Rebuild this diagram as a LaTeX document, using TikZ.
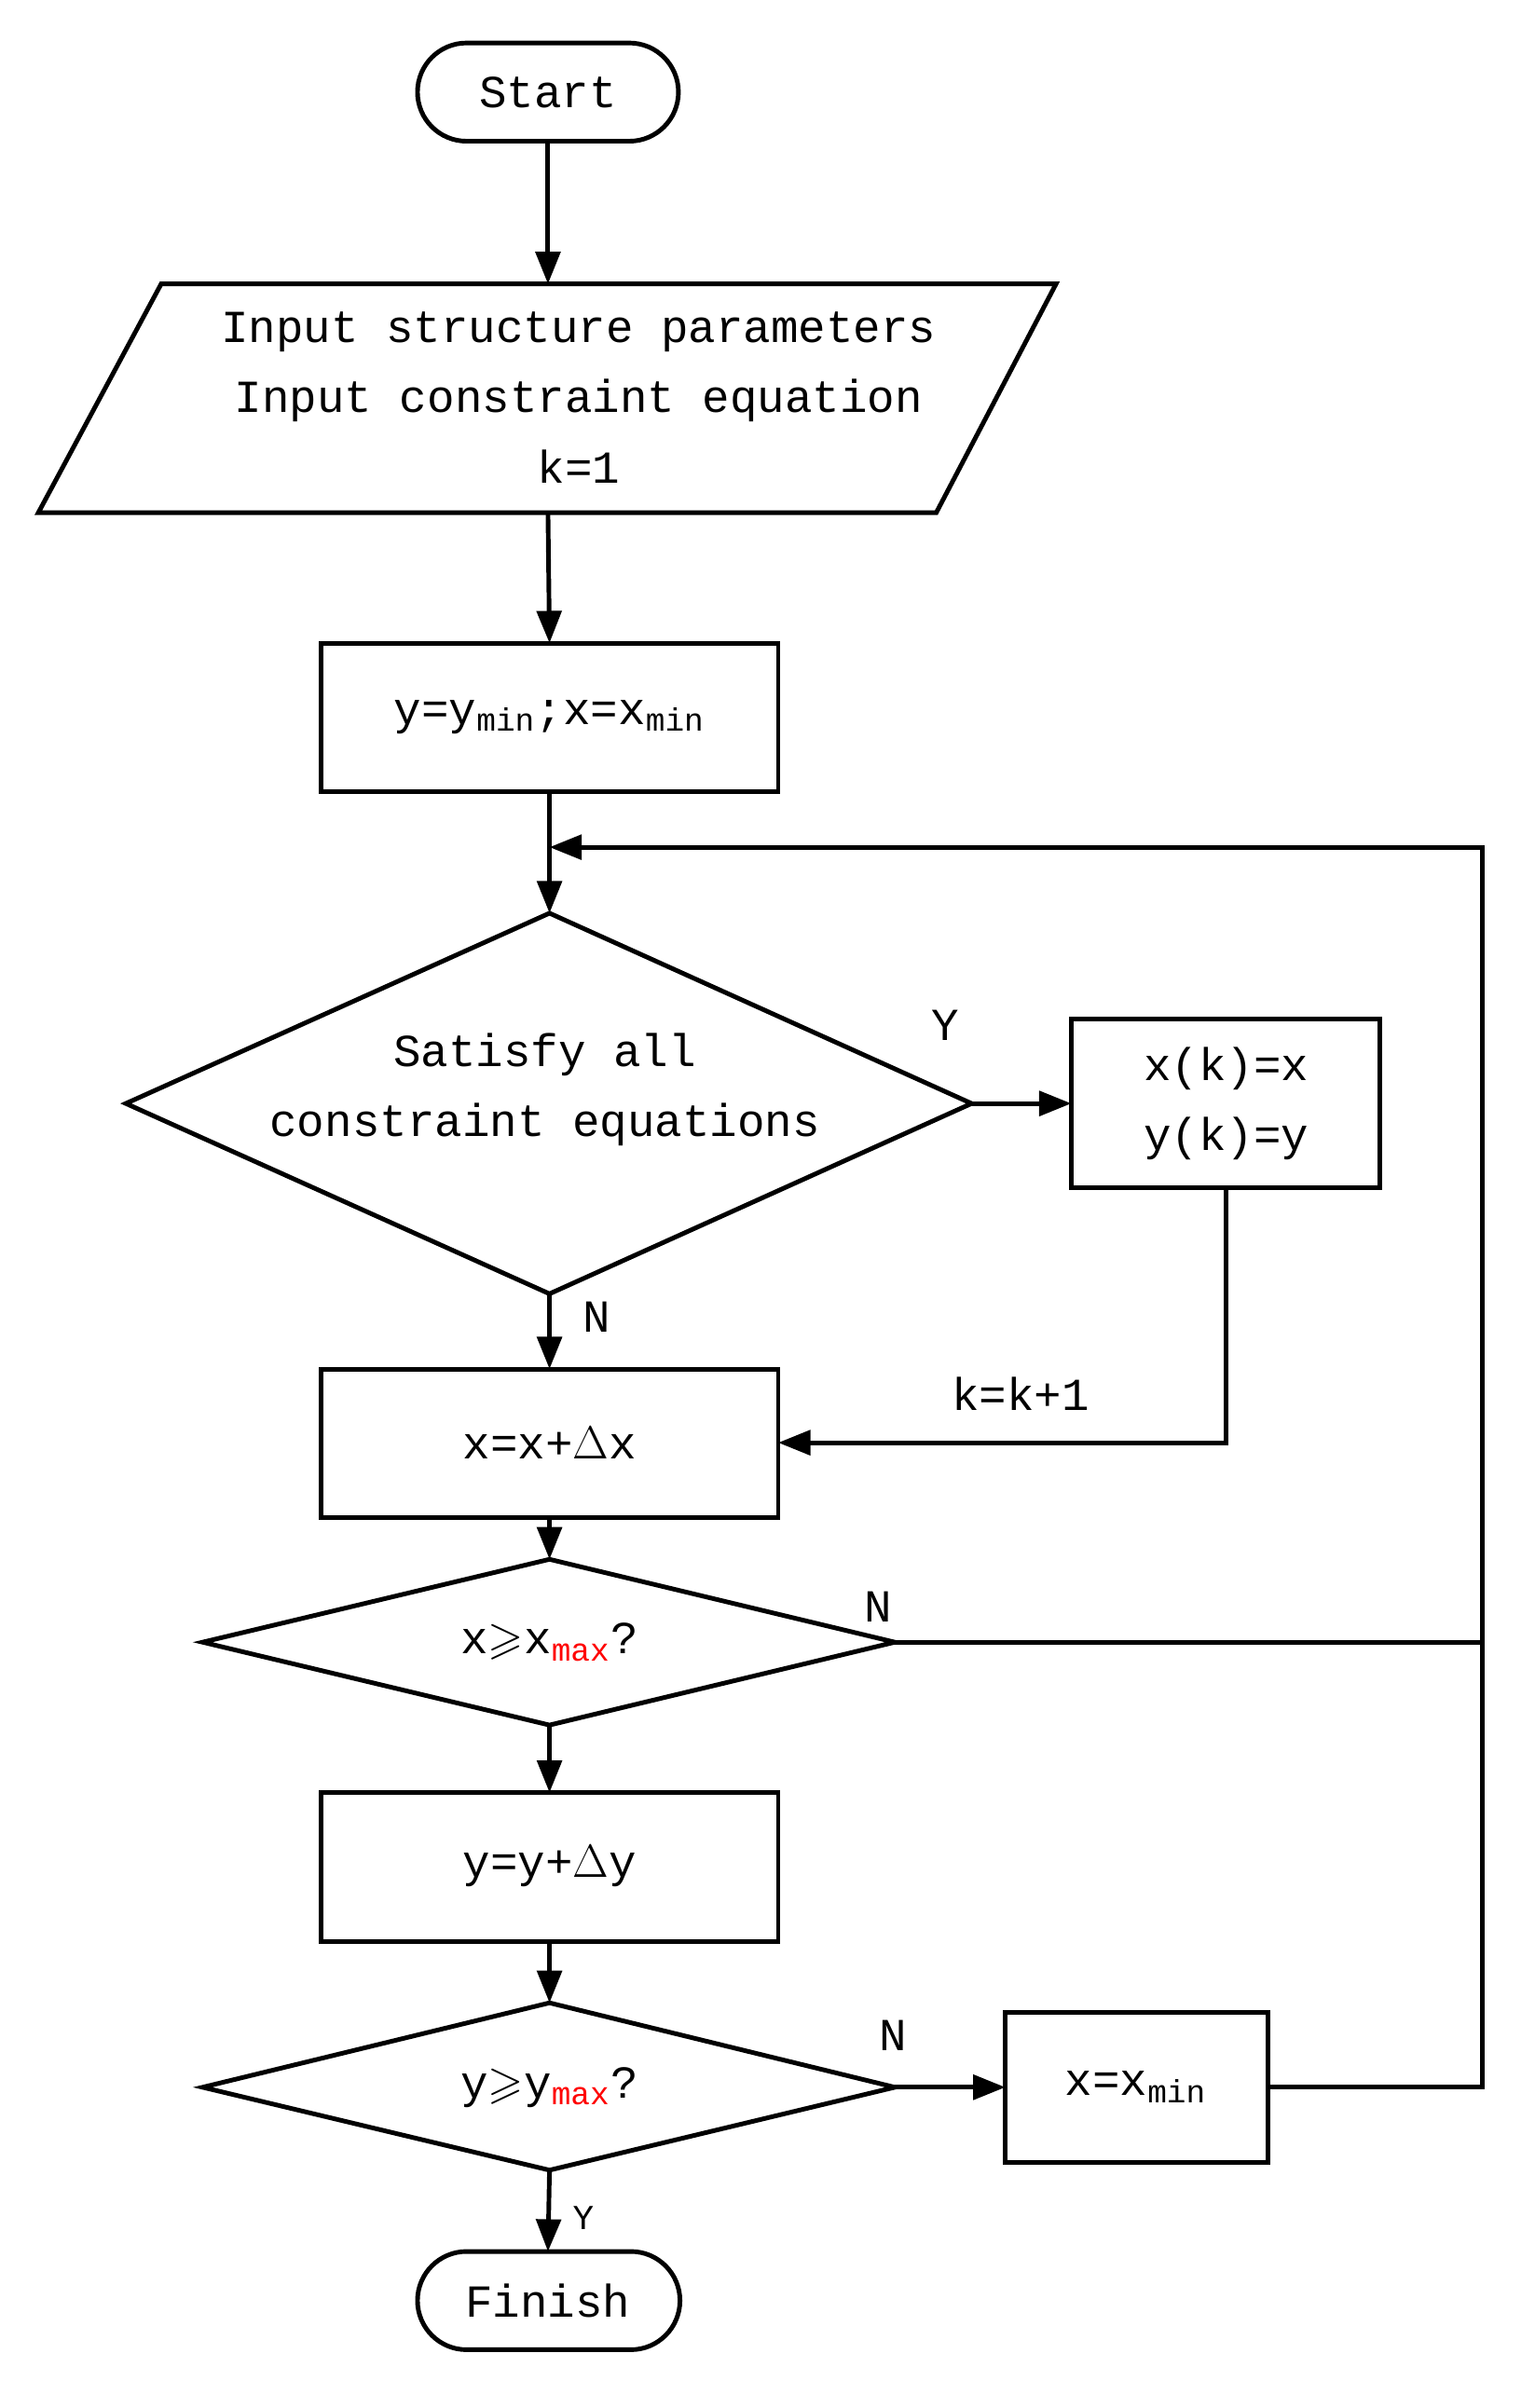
\documentclass[tikz,border=0pt]{standalone}
\usepackage{amssymb}
\usepackage{fontspec}
\setmainfont{Liberation Mono}
\usetikzlibrary{arrows.meta,shapes.geometric}
\begin{document}
\begin{tikzpicture}[x=0.02cm,y=-0.02cm,line width=1.7pt,
  arr/.style={-{Triangle[length=0.42cm,width=0.32cm]}},
  txt/.style={font=\fontsize{17}{26}\selectfont,align=center,inner sep=0},
  box/.style={draw,rectangle,inner sep=0}]
\useasboundingbox (0,0) rectangle (1000,1569);
% Start
\draw[rounded corners=0.64cm] (272,28) rectangle (442,92);
\node[txt] (start) at (357,60) {Start};
\coordinate (sb) at (357,92);
% parallelogram
\draw (105,185) -- (688,185) -- (610,334) -- (25,334) -- cycle;
\coordinate (pt) at (357,185); \coordinate (pb) at (357,334);
\node[txt] (inp) at (377,259) {Input structure parameters\\Input constraint equation\\k=1};
% box1
\draw (209,419) rectangle (507,516);
\coordinate (b1t) at (358,419); \coordinate (b1b) at (358,516);
\node[txt] (b1) at (358,467) {y=y\textsubscript{min};x=x\textsubscript{min}};
% diamond1
\draw (358,595) -- (633,719) -- (358,843) -- (82,719) -- cycle;
\coordinate (d1t) at (358,595); \coordinate (d1r) at (633,719); \coordinate (d1b) at (358,843);
\node[txt] (d1) at (355,710) {Satisfy all\\constraint equations};
% xk box
\draw (698,664) rectangle (899,774);
\coordinate (xkl) at (698,719); \coordinate (xkb) at (799,774);
\node[txt] (xk) at (799,719) {x(k)=x\\y(k)=y};
% box x+dx
\draw (209,892) rectangle (507,989);
\coordinate (b2t) at (358,892); \coordinate (b2b) at (358,989); \coordinate (b2r) at (507,940);
\node[txt] (b2) at (358,940) {x=x+$\Delta$x};
% diamond2
\draw (358,1016) -- (583,1070) -- (358,1124) -- (132,1070) -- cycle;
\coordinate (d2t) at (358,1016); \coordinate (d2r) at (583,1070); \coordinate (d2b) at (358,1124);
\node[txt] (d2) at (358,1070) {x$\geqslant$x\textsubscript{\textcolor{red}{max}}?};
% box y+dy
\draw (209,1168) rectangle (507,1265);
\coordinate (b3t) at (358,1168); \coordinate (b3b) at (358,1265);
\node[txt] (b3) at (358,1216) {y=y+$\Delta$y};
% diamond3
\draw (358,1305) -- (583,1360) -- (358,1414) -- (132,1360) -- cycle;
\coordinate (d3t) at (358,1305); \coordinate (d3r) at (583,1360); \coordinate (d3b) at (358,1414);
\node[txt] (d3) at (358,1360) {y$\geqslant$y\textsubscript{\textcolor{red}{max}}?};
% xmin box
\draw (655,1311) rectangle (826,1409);
\coordinate (xml) at (655,1360); \coordinate (xmr) at (826,1360);
\node[txt] (xm) at (740,1360) {x=x\textsubscript{min}};
% Finish
\draw[rounded corners=0.64cm] (272,1467) rectangle (443,1531);
\coordinate (ft) at (357,1467);
\node[txt] (fin) at (357,1499) {Finish};
% loop
\coordinate (lt) at (966,552); \coordinate (lb) at (966,1360); \coordinate (l2) at (966,1070);
\coordinate (jn) at (358,552); \coordinate (kc) at (799,940);
% arrows
\draw[arr] (sb) -- (pt);
\draw[arr] (pb) -- (b1t);
\draw[arr] (b1b) -- (d1t);
\draw[arr] (d1r) -- (xkl);
\draw[arr] (d1b) -- (b2t);
\draw[arr] (xkb) -- (kc) -- (b2r);
\draw[arr] (b2b) -- (d2t);
\draw[arr] (d2b) -- (b3t);
\draw[arr] (b3b) -- (d3t);
\draw[arr] (d3r) -- (xml);
\draw[arr] (d3b) -- (ft);
\draw (d2r) -- (l2);
\draw[arr] (xmr) -- (lb) -- (lt) -- (jn);
% labels
\node[txt] (ly1) at (616,668) {Y};
\node[txt] (ln1) at (389,858) {N};
\node[txt] (lk) at (665,908) {k=k+1};
\node[txt] (ln2) at (572,1047) {N};
\node[txt] (ln3) at (582,1326) {N};
\node[txt,font=\fontsize{13}{16}\selectfont] (ly2) at (380,1445) {Y};
\end{tikzpicture}
\end{document}
